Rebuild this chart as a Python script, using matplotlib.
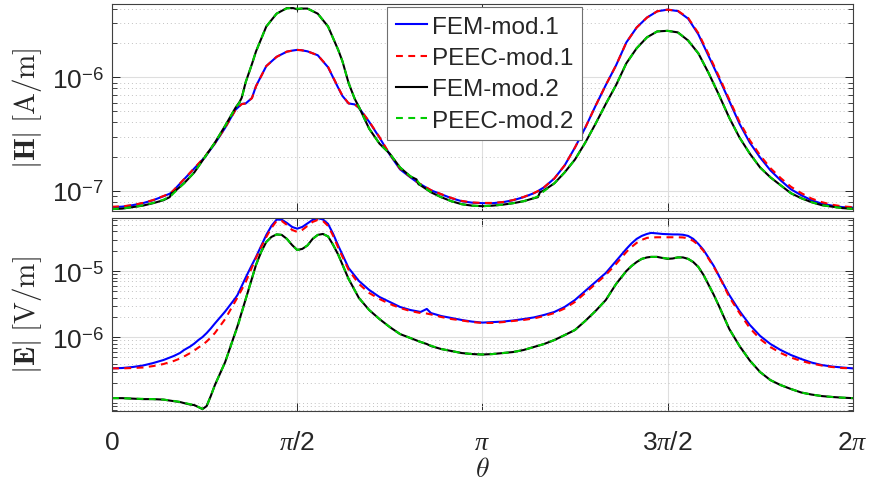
import numpy as np
import matplotlib
matplotlib.use("Agg")
import matplotlib.pyplot as plt
from matplotlib.ticker import LogLocator, NullFormatter, FixedLocator, FixedFormatter

# ---------------- data (theta in degrees) ----------------
theta_top_deg = [0, 5, 10, 15, 20, 25, 28, 29, 30, 35, 40, 45, 50, 55, 60, 62, 63, 65, 68, 70,
                 75, 80, 85, 88, 90, 92, 95, 100, 105, 110, 112, 115, 118, 120, 125, 130, 135,
                 140, 145, 148, 149, 150, 155, 160, 165, 170, 175, 180, 185, 190, 195, 200, 205,
                 207, 208, 210, 215, 220, 225, 230, 235, 240, 245, 250, 255, 260, 265, 270, 275,
                 280, 285, 290, 295, 300, 305, 310, 315, 320, 325, 330, 335, 340, 345, 350, 355, 360]

H_fem1 = [7.14e-8, 7.21e-8, 7.43e-8, 7.74e-8, 8.22e-8, 8.91e-8, 9.37e-8, 9.66e-8, 1.006e-7, 1.256e-7,
          1.57e-7, 1.96e-7, 2.60e-7, 3.59e-7, 5.17e-7, 5.60e-7, 5.83e-7, 5.89e-7, 6.58e-7, 8.39e-7,
          1.26e-6, 1.52e-6, 1.69e-6, 1.73e-6, 1.75e-6, 1.74e-6, 1.70e-6, 1.57e-6, 1.23e-6, 8.06e-7,
          6.86e-7, 5.89e-7, 5.77e-7, 5.38e-7, 4.05e-7, 2.94e-7, 2.08e-7, 1.54e-7, 1.31e-7, 1.195e-7,
          1.159e-7, 1.136e-7, 1.006e-7, 9.28e-8, 8.56e-8, 8.05e-8, 7.82e-8, 7.74e-8, 7.74e-8, 7.90e-8,
          8.22e-8, 8.74e-8, 9.47e-8, 9.86e-8, 1.016e-7, 1.069e-7, 1.28e-7, 1.67e-7, 2.40e-7, 3.59e-7,
          5.60e-7, 8.56e-7, 1.28e-6, 2.04e-6, 2.76e-6, 3.38e-6, 3.84e-6, 3.97e-6, 3.86e-6, 3.31e-6,
          2.40e-6, 1.54e-6, 9.86e-7, 6.20e-7, 3.89e-7, 2.65e-7, 1.96e-7, 1.51e-7, 1.23e-7, 1.026e-7,
          9.10e-8, 8.22e-8, 7.66e-8, 7.36e-8, 7.14e-8, 7.07e-8]

H_peec1 = [7.20e-8, 7.25e-8, 7.45e-8, 7.78e-8, 8.25e-8, 8.95e-8, 9.40e-8, 9.70e-8, 1.01e-7, 1.26e-7,
           1.58e-7, 1.98e-7, 2.62e-7, 3.60e-7, 5.15e-7, 5.58e-7, 5.80e-7, 5.89e-7, 6.55e-7, 8.35e-7,
           1.26e-6, 1.52e-6, 1.69e-6, 1.73e-6, 1.75e-6, 1.74e-6, 1.70e-6, 1.57e-6, 1.24e-6, 8.10e-7,
           6.90e-7, 5.90e-7, 5.78e-7, 5.40e-7, 4.08e-7, 2.97e-7, 2.10e-7, 1.56e-7, 1.32e-7, 1.20e-7,
           1.16e-7, 1.14e-7, 1.01e-7, 9.30e-8, 8.60e-8, 8.10e-8, 7.85e-8, 7.78e-8, 7.78e-8, 7.92e-8,
           8.25e-8, 8.78e-8, 9.50e-8, 9.90e-8, 1.02e-7, 1.07e-7, 1.28e-7, 1.67e-7, 2.40e-7, 3.59e-7,
           5.60e-7, 8.56e-7, 1.28e-6, 2.04e-6, 2.76e-6, 3.38e-6, 3.84e-6, 3.97e-6, 3.88e-6, 3.36e-6,
           2.46e-6, 1.60e-6, 1.02e-6, 6.40e-7, 4.05e-7, 2.78e-7, 2.05e-7, 1.58e-7, 1.29e-7, 1.08e-7,
           9.50e-8, 8.50e-8, 7.90e-8, 7.50e-8, 7.25e-8, 7.14e-8]

H_fem2 = [6.86e-8, 6.93e-8, 7.14e-8, 7.36e-8, 7.74e-8, 8.22e-8, 8.74e-8, 9.47e-8, 9.66e-8, 1.159e-7,
          1.447e-7, 1.96e-7, 2.65e-7, 3.74e-7, 5.38e-7, 6.07e-7, 6.58e-7, 9.10e-7, 1.31e-6, 1.70e-6,
          2.82e-6, 3.66e-6, 4.10e-6, 4.10e-6, 4.00e-6, 4.06e-6, 4.06e-6, 3.66e-6, 2.82e-6, 1.74e-6,
          1.39e-6, 8.91e-7, 6.45e-7, 5.49e-7, 3.52e-7, 2.60e-7, 2.12e-7, 1.60e-7, 1.335e-7, 1.256e-7,
          1.136e-7, 1.113e-7, 9.66e-8, 8.74e-8, 8.05e-8, 7.58e-8, 7.36e-8, 7.28e-8, 7.36e-8, 7.51e-8,
          7.74e-8, 8.05e-8, 8.56e-8, 8.74e-8, 9.66e-8, 1.006e-7, 1.159e-7, 1.447e-7, 1.88e-7, 2.65e-7,
          3.89e-7, 5.83e-7, 8.56e-7, 1.335e-6, 1.81e-6, 2.26e-6, 2.55e-6, 2.58e-6, 2.50e-6, 2.12e-6,
          1.63e-6, 1.09e-6, 7.00e-7, 4.40e-7, 2.94e-7, 2.12e-7, 1.60e-7, 1.31e-7, 1.113e-7, 9.47e-8,
          8.56e-8, 7.90e-8, 7.43e-8, 7.21e-8, 7.00e-8, 6.90e-8]

H_peec2 = [6.86e-8, 6.95e-8, 7.14e-8, 7.40e-8, 7.78e-8, 8.30e-8, 8.85e-8, 9.10e-8, 9.50e-8, 1.16e-7,
           1.45e-7, 1.96e-7, 2.65e-7, 3.74e-7, 5.38e-7, 6.00e-7, 6.50e-7, 9.10e-7, 1.31e-6, 1.70e-6,
           2.82e-6, 3.66e-6, 4.08e-6, 4.10e-6, 4.05e-6, 4.06e-6, 4.06e-6, 3.66e-6, 2.82e-6, 1.74e-6,
           1.39e-6, 8.91e-7, 6.45e-7, 5.49e-7, 3.52e-7, 2.60e-7, 2.12e-7, 1.60e-7, 1.34e-7, 1.24e-7,
           1.18e-7, 1.12e-7, 9.70e-8, 8.74e-8, 8.05e-8, 7.58e-8, 7.36e-8, 7.28e-8, 7.36e-8, 7.51e-8,
           7.74e-8, 8.05e-8, 8.56e-8, 8.90e-8, 9.20e-8, 9.90e-8, 1.16e-7, 1.45e-7, 1.88e-7, 2.65e-7,
           3.89e-7, 5.83e-7, 8.56e-7, 1.335e-6, 1.81e-6, 2.26e-6, 2.55e-6, 2.58e-6, 2.50e-6, 2.12e-6,
           1.63e-6, 1.09e-6, 7.00e-7, 4.40e-7, 2.94e-7, 2.12e-7, 1.60e-7, 1.31e-7, 1.113e-7, 9.47e-8,
           8.56e-8, 7.90e-8, 7.43e-8, 7.21e-8, 7.00e-8, 6.90e-8]

theta_bot_deg = [0, 5, 10, 15, 20, 25, 30, 33, 35, 38, 40, 42, 44, 46, 48, 50, 55, 60, 61, 65,
                 67.5, 70, 72.5, 75, 77.5, 80, 82.5, 85, 87.5, 90, 92.5, 95, 97.5, 100, 102.5, 105,
                 107.5, 110, 112.5, 115, 120, 125, 130, 135, 140, 145, 150, 153, 155, 160, 165,
                 170, 175, 180, 185, 190, 195, 200, 205, 210, 215, 220, 225, 230, 235, 240, 245,
                 250, 252.5, 255, 257.5, 260, 262, 265, 267.5, 270, 272.5, 275, 277.5, 280, 282.5,
                 285, 287.5, 290, 292.5, 295, 300, 305, 310, 315, 320, 325, 330, 335, 340, 345,
                 350, 355, 360]

E_fem1 = [3.39e-7, 3.43e-7, 3.55e-7, 3.74e-7, 4.08e-7, 4.53e-7, 5.21e-7, 5.78e-7, 6.42e-7, 7.26e-7,
          8.05e-7, 9.10e-7, 1.01e-6, 1.16e-6, 1.36e-6, 1.62e-6, 2.46e-6, 3.94e-6, 4.38e-6, 8.05e-6,
          1.16e-5, 1.65e-5, 2.42e-5, 3.55e-5, 4.86e-5, 6.05e-5, 6.03e-5, 5.39e-5, 4.69e-5, 4.41e-5,
          4.69e-5, 5.30e-5, 5.99e-5, 6.35e-5, 6.09e-5, 5.21e-5, 3.67e-5, 2.42e-5, 1.65e-5, 1.12e-5,
          7.13e-6, 5.21e-6, 4.08e-6, 3.43e-6, 2.88e-6, 2.59e-6, 2.42e-6, 2.69e-6, 2.33e-6, 2.10e-6,
          1.96e-6, 1.83e-6, 1.73e-6, 1.67e-6, 1.70e-6, 1.73e-6, 1.80e-6, 1.89e-6, 2.00e-6, 2.18e-6,
          2.42e-6, 2.88e-6, 3.67e-6, 5.03e-6, 6.88e-6, 9.42e-6, 1.43e-5, 2.18e-5, 2.64e-5, 3.09e-5,
          3.43e-5, 3.67e-5, 3.81e-5, 3.74e-5, 3.67e-5, 3.64e-5, 3.61e-5, 3.61e-5, 3.57e-5, 3.43e-5,
          3.09e-5, 2.59e-5, 2.10e-5, 1.59e-5, 1.20e-5, 8.49e-6, 4.38e-6, 2.50e-6, 1.54e-6, 1.05e-6,
          7.92e-7, 6.42e-7, 5.39e-7, 4.69e-7, 4.15e-7, 3.80e-7, 3.61e-7, 3.49e-7, 3.39e-7]

E_peec1 = [3.39e-7, 3.39e-7, 3.43e-7, 3.49e-7, 3.67e-7, 3.94e-7, 4.38e-7, 4.77e-7, 5.12e-7, 5.78e-7,
           6.31e-7, 7.01e-7, 7.65e-7, 8.64e-7, 9.93e-7, 1.16e-6, 1.89e-6, 3.55e-6, 4.01e-6, 6.88e-6,
           1.05e-5, 1.59e-5, 2.33e-5, 3.31e-5, 4.53e-5, 5.78e-5, 5.78e-5, 5.03e-5, 4.23e-5, 3.94e-5,
           4.23e-5, 4.86e-5, 5.58e-5, 5.99e-5, 5.78e-5, 4.86e-5, 3.43e-5, 2.25e-5, 1.54e-5, 1.05e-5,
           6.42e-6, 4.69e-6, 3.80e-6, 3.20e-6, 2.78e-6, 2.50e-6, 2.33e-6, 2.29e-6, 2.22e-6, 2.03e-6,
           1.89e-6, 1.80e-6, 1.70e-6, 1.65e-6, 1.65e-6, 1.70e-6, 1.77e-6, 1.83e-6, 1.93e-6, 2.10e-6,
           2.33e-6, 2.73e-6, 3.43e-6, 4.69e-6, 6.42e-6, 8.79e-6, 1.29e-5, 1.96e-5, 2.33e-5, 2.69e-5,
           2.98e-5, 3.20e-5, 3.25e-5, 3.27e-5, 3.27e-5, 3.27e-5, 3.27e-5, 3.27e-5, 3.25e-5, 3.14e-5,
           2.88e-5, 2.50e-5, 2.03e-5, 1.54e-5, 1.16e-5, 8.49e-6, 4.08e-6, 2.33e-6, 1.38e-6, 9.42e-7,
           7.13e-7, 5.78e-7, 4.94e-7, 4.38e-7, 4.01e-7, 3.74e-7, 3.55e-7, 3.43e-7, 3.39e-7]

E_fem2 = [1.20e-7, 1.20e-7, 1.18e-7, 1.16e-7, 1.16e-7, 1.14e-7, 1.08e-7, 1.05e-7, 1.01e-7, 9.59e-8,
          9.42e-8, 8.79e-8, 8.20e-8, 9.10e-8, 1.29e-7, 1.89e-7, 4.22e-7, 1.20e-6, 1.48e-6, 3.80e-6,
          6.88e-6, 1.25e-5, 1.96e-5, 2.78e-5, 3.31e-5, 3.61e-5, 3.55e-5, 3.09e-5, 2.50e-5, 2.10e-5,
          2.18e-5, 2.46e-5, 3.09e-5, 3.55e-5, 3.67e-5, 3.37e-5, 2.50e-5, 1.77e-5, 1.16e-5, 7.65e-6,
          3.94e-6, 2.59e-6, 1.89e-6, 1.43e-6, 1.12e-6, 9.76e-7, 8.49e-7, 7.92e-7, 7.38e-7, 6.65e-7,
          6.20e-7, 5.78e-7, 5.58e-7, 5.49e-7, 5.58e-7, 5.78e-7, 5.99e-7, 6.42e-7, 7.13e-7, 7.92e-7,
          9.10e-7, 1.08e-6, 1.29e-6, 1.77e-6, 2.50e-6, 3.67e-6, 6.42e-6, 1.01e-5, 1.20e-5, 1.38e-5,
          1.54e-5, 1.62e-5, 1.65e-5, 1.65e-5, 1.59e-5, 1.54e-5, 1.56e-5, 1.62e-5, 1.62e-5, 1.54e-5,
          1.38e-5, 1.16e-5, 8.79e-6, 6.20e-6, 4.38e-6, 2.98e-6, 1.34e-6, 7.38e-7, 4.45e-7, 2.98e-7,
          2.25e-7, 1.89e-7, 1.65e-7, 1.46e-7, 1.36e-7, 1.29e-7, 1.25e-7, 1.22e-7, 1.20e-7]

E_peec2 = [1.20e-7, 1.20e-7, 1.18e-7, 1.17e-7, 1.16e-7, 1.14e-7, 1.09e-7, 1.05e-7, 1.02e-7, 9.70e-8,
           9.40e-8, 8.80e-8, 8.25e-8, 9.10e-8, 1.29e-7, 1.89e-7, 4.22e-7, 1.18e-6, 1.42e-6, 3.80e-6,
           6.88e-6, 1.25e-5, 1.96e-5, 2.78e-5, 3.31e-5, 3.61e-5, 3.55e-5, 3.09e-5, 2.50e-5, 2.10e-5,
           2.18e-5, 2.46e-5, 3.09e-5, 3.55e-5, 3.67e-5, 3.37e-5, 2.50e-5, 1.77e-5, 1.16e-5, 7.65e-6,
           3.94e-6, 2.59e-6, 1.89e-6, 1.43e-6, 1.12e-6, 9.76e-7, 8.49e-7, 8.00e-7, 7.45e-7, 6.65e-7,
           6.20e-7, 5.78e-7, 5.58e-7, 5.49e-7, 5.58e-7, 5.78e-7, 5.99e-7, 6.42e-7, 7.13e-7, 7.92e-7,
           9.10e-7, 1.08e-6, 1.29e-6, 1.77e-6, 2.50e-6, 3.67e-6, 6.42e-6, 1.01e-5, 1.20e-5, 1.38e-5,
           1.54e-5, 1.62e-5, 1.65e-5, 1.65e-5, 1.60e-5, 1.56e-5, 1.57e-5, 1.62e-5, 1.62e-5, 1.54e-5,
           1.38e-5, 1.16e-5, 8.79e-6, 6.20e-6, 4.38e-6, 2.98e-6, 1.34e-6, 7.38e-7, 4.45e-7, 2.98e-7,
           2.25e-7, 1.89e-7, 1.65e-7, 1.46e-7, 1.36e-7, 1.29e-7, 1.25e-7, 1.22e-7, 1.20e-7]

series_labels = ["FEM-mod.1", "PEEC-mod.1", "FEM-mod.2", "PEEC-mod.2"]
xtick_labels = ["0", r"$\pi$/2", r"$\pi$", r"3$\pi$/2", r"2$\pi$"]

# ---------------- style ----------------
plt.rcParams["font.family"] = ["Liberation Sans", "DejaVu Sans"]
plt.rcParams["mathtext.fontset"] = "custom"
plt.rcParams["mathtext.rm"] = "Liberation Sans"
plt.rcParams["mathtext.it"] = "Liberation Serif:italic"
plt.rcParams["mathtext.bf"] = "Liberation Sans:bold"

fig = plt.figure(figsize=(8.71, 4.85), dpi=100)
ax1 = fig.add_axes([112 / 871, 1 - 212 / 485, 740.7 / 871, 207.5 / 485])
ax2 = fig.add_axes([112 / 871, 1 - 411.5 / 485, 740.7 / 871, 192.5 / 485])

colors = ["#0000ff", "#ff0000", "#000000", "#00cc00"]
styles = ["-", "--", "-", "--"]


def plot_set(ax, th_deg, series):
    th = np.deg2rad(th_deg)
    lines = []
    for y, c, s, lab in zip(series, colors, styles, series_labels):
        (ln,) = ax.plot(th, y, color=c, lw=1.5, ls=s, label=lab)
        if s == "--":
            ln.set_dashes((3.3, 2.6))
        lines.append(ln)
    return lines


lines = plot_set(ax1, theta_top_deg, [H_fem1, H_peec1, H_fem2, H_peec2])
plot_set(ax2, theta_bot_deg, [E_fem1, E_peec1, E_fem2, E_peec2])

xticks = np.array([0, 0.5, 1.0, 1.5, 2.0]) * np.pi


def style(ax, ylim, majors, labels):
    ax.set_yscale("log")
    ax.set_xlim(0, 2 * np.pi)
    ax.set_ylim(*ylim)
    ax.set_xticks(xticks)
    ax.yaxis.set_major_locator(FixedLocator(majors))
    ax.yaxis.set_major_formatter(FixedFormatter(labels))
    ax.yaxis.set_minor_locator(LogLocator(base=10, subs=np.arange(1, 10), numticks=30))
    ax.yaxis.set_minor_formatter(NullFormatter())
    ax.grid(True, which="major", color="#dedede", lw=0.8, ls="-")
    ax.grid(True, which="minor", axis="y", color="#c2c2c2", lw=0.7, ls=(0, (1, 3)))
    ax.set_axisbelow(True)
    ax.tick_params(which="both", direction="in", top=True, right=True,
                   colors="#262626", labelsize=19)
    ax.tick_params(which="major", length=6, width=0.7)
    ax.tick_params(which="minor", length=3.5, width=0.6)
    ax.tick_params(axis="y", pad=6)
    for sp in ax.spines.values():
        sp.set_color("#404040")
        sp.set_linewidth(0.8)


style(ax1, (6.6e-8, 4.5e-6), [1e-7, 1e-6], [r"$10^{-7}$", r"$10^{-6}$"])
style(ax2, (7.8e-8, 6.4e-5), [1e-6, 1e-5], [r"$10^{-6}$", r"$10^{-5}$"])
ax1.tick_params(axis="x", labelbottom=False)
ax2.set_xticklabels(xtick_labels)
ax2.tick_params(axis="x", pad=14)

leg = ax1.legend(handles=lines, loc="upper left", bbox_to_anchor=(0.3713, 0.9817),
                 borderaxespad=0, fontsize=17.5, handlelength=1.3, handletextpad=0.2,
                 labelspacing=0.38, borderpad=0.35, fancybox=False, framealpha=1,
                 edgecolor="#707070")
leg.get_frame().set_linewidth(0.8)
for t in leg.get_texts():
    t.set_color("#262626")

fig.text(27 / 871, 1 - 108 / 485, r"$|\mathbf{H}|\;[\mathrm{A/m}]$", rotation=90,
         ha="center", va="center", fontsize=21, math_fontfamily="cm", color="#262626")
fig.text(27 / 871, 1 - 315 / 485, r"$|\mathbf{E}|\;[\mathrm{V/m}]$", rotation=90,
         ha="center", va="center", fontsize=21, math_fontfamily="cm", color="#262626")
fig.text(482.4 / 871, 1 - 470 / 485, r"$\theta$", ha="center", va="center",
         fontsize=20, math_fontfamily="cm", color="#262626")

fig.savefig("out.png", dpi=100)
